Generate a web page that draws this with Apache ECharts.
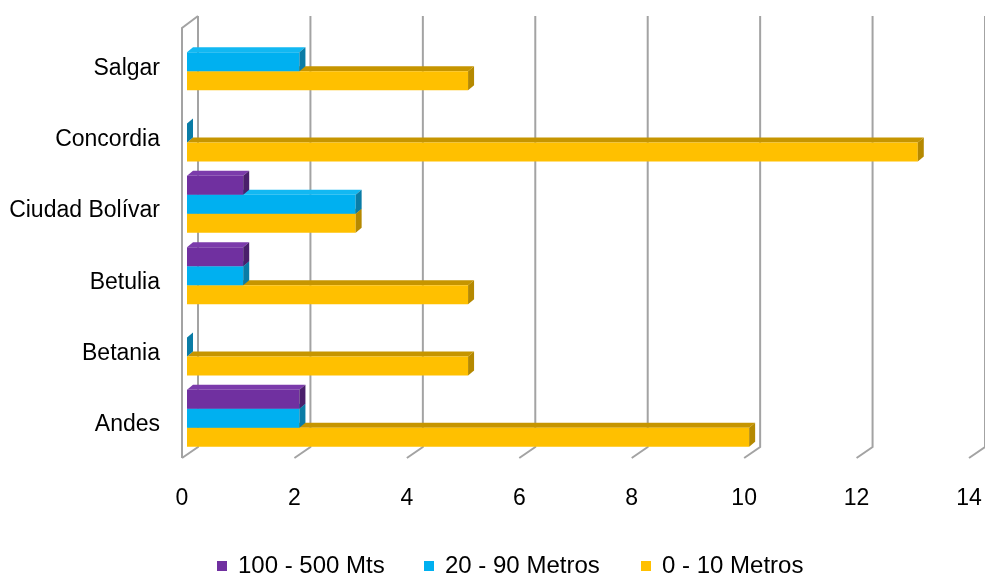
<!DOCTYPE html>
<html>
<head>
<meta charset="utf-8">
<script src="https://cdn.jsdelivr.net/npm/echarts@6/dist/echarts.min.js"></script>
<style>
  html, body { margin: 0; padding: 0; background: #ffffff; }
  #chart { width: 985px; height: 576px; }
</style>
</head>
<body>
<div id="chart"></div>
<script>
// Municipios (bottom to top on the category axis)
const categories = ['Andes', 'Betania', 'Betulia', 'Ciudad Bolívar', 'Concordia', 'Salgar'];

// Series values, one per municipio (null = no bar drawn)
const seriesNames = ['100 - 500 Mts', '20 - 90 Metros', '0 - 10 Metros'];
const valsAlto = [2, null, 1, 1, null, null];   // 100 - 500 Mts
const valsMedio = [2, 0, 1, 3, 0, 2];           // 20 - 90 Metros
const valsBajo = [10, 5, 5, 3, 13, 5];          // 0 - 10 Metros

// Value axis ticks
const xTicks = [0, 2, 4, 6, 8, 10, 12, 14];

// Face colours: front, top, side
const palette = {
  '100 - 500 Mts': { front: '#7030A0', top: '#7b3bab', side: '#4a1f6b' },
  '20 - 90 Metros': { front: '#00B0F0', top: '#12b8f2', side: '#0a7ca6' },
  '0 - 10 Metros': { front: '#FFC000', top: '#c69500', side: '#b58900' }
};

const DEPTH_X = 6, DEPTH_Y = 5;
const FONT = '"Liberation Sans", Arial, sans-serif';

// 3D-looking horizontal bar: front rectangle + top face + end face
function barRenderer(slot, colors) {
  return function (params, api) {
    const v = api.value(0);
    if (v === null || v === undefined || isNaN(v)) return;
    const cat = api.value(1);
    const base = api.coord([0, cat]);
    const end = api.coord([v, cat]);
    const band = api.size([0, 1])[1];
    const t = band * 0.8 / 3;
    const cy = base[1] + slot * t;
    const y0 = cy - t / 2, y1 = cy + t / 2;
    const x0 = base[0], x1 = end[0];
    const children = [];
    if (x1 - x0 > 0.5) {
      children.push({
        type: 'polygon',
        shape: { points: [[x0, y0], [x0 + DEPTH_X, y0 - DEPTH_Y], [x1 + DEPTH_X, y0 - DEPTH_Y], [x1, y0]] },
        style: { fill: colors.top }
      });
      children.push({
        type: 'rect',
        shape: { x: x0, y: y0, width: x1 - x0, height: t },
        style: { fill: colors.front }
      });
    }
    children.push({
      type: 'polygon',
      shape: { points: [[x1, y0], [x1 + DEPTH_X, y0 - DEPTH_Y], [x1 + DEPTH_X, y1 - DEPTH_Y], [x1, y1]] },
      style: { fill: colors.side }
    });
    return { type: 'group', children: children };
  };
}

// Back wall gridlines with the floor edge, plus the left wall outline
function gridRenderer(params, api) {
  const v = api.value(0);
  const x = api.coord([v, 0])[0];
  const cs = params.coordSys;
  const top = cs.y - 10;
  const backBottom = cs.y + cs.height - 7;
  const frontBottom = cs.y + cs.height + 4;
  const bx = x + 11, fx = x - 5;
  const lineStyle = { stroke: '#a3a3a3', lineWidth: 2, fill: null };
  const children = [{
    type: 'polyline',
    shape: { points: [[bx, top], [bx, backBottom], [fx, frontBottom]] },
    style: lineStyle
  }];
  if (v === 0) {
    children.push({
      type: 'polyline',
      shape: { points: [[bx, top], [fx, top + 12], [fx, frontBottom]] },
      style: lineStyle
    });
  }
  return { type: 'group', children: children };
}

function toData(vals) {
  return vals.map((v, i) => [v, i]);
}

const seriesValues = {
  '100 - 500 Mts': valsAlto,
  '20 - 90 Metros': valsMedio,
  '0 - 10 Metros': valsBajo
};
// slot: position inside the category band (-1 top, 0 middle, 1 bottom)
const slots = { '100 - 500 Mts': -1, '20 - 90 Metros': 0, '0 - 10 Metros': 1 };

const barSeries = ['0 - 10 Metros', '20 - 90 Metros', '100 - 500 Mts'].map(name => ({
  name: name,
  type: 'custom',
  z: 3,
  itemStyle: { color: palette[name].front },
  encode: { x: 0, y: 1 },
  data: toData(seriesValues[name]).filter(d => d[0] !== null),
  renderItem: barRenderer(slots[name], palette[name])
}));

const legendLeft = [217, 424, 641];

const chart = echarts.init(document.getElementById('chart'), null, { renderer: 'canvas' });
chart.setOption({
  animation: false,
  backgroundColor: '#ffffff',
  grid: { left: 187, right: 11, top: 26, bottom: 122, containLabel: false },
  xAxis: {
    type: 'value',
    min: 0,
    max: 14,
    interval: 2,
    axisLine: { show: false },
    axisTick: { show: false },
    splitLine: { show: false },
    axisLabel: {
      show: true,
      showMinLabel: true,
      showMaxLabel: true,
      margin: 33,
      padding: [0, 10, 0, 0],
      fontSize: 23,
      fontFamily: FONT,
      color: '#000000'
    }
  },
  yAxis: {
    type: 'category',
    data: categories,
    axisLine: { show: false },
    axisTick: { show: false },
    splitLine: { show: false },
    axisLabel: {
      margin: 27,
      formatter: function (value) { return '{c|' + value + '}'; },
      rich: {
        c: {
          fontSize: 23,
          fontFamily: FONT,
          color: '#000000',
          padding: [13, 0, 0, 0]
        }
      }
    }
  },
  legend: seriesNames.map((name, i) => ({
    data: [{ name: name, icon: 'rect' }],
    left: legendLeft[i],
    top: 554,
    itemWidth: 10,
    itemHeight: 10,
    padding: 0,
    selectedMode: false,
    textStyle: { fontSize: 24, fontFamily: FONT, color: '#000000', padding: [0, 0, 0, 6] }
  })),
  series: [{
    type: 'custom',
    name: 'grid',
    silent: true,
    z: 1,
    encode: { x: 0, y: 1 },
    data: xTicks.map(v => [v, 0]),
    renderItem: gridRenderer
  }].concat(barSeries)
});
</script>
</body>
</html>
